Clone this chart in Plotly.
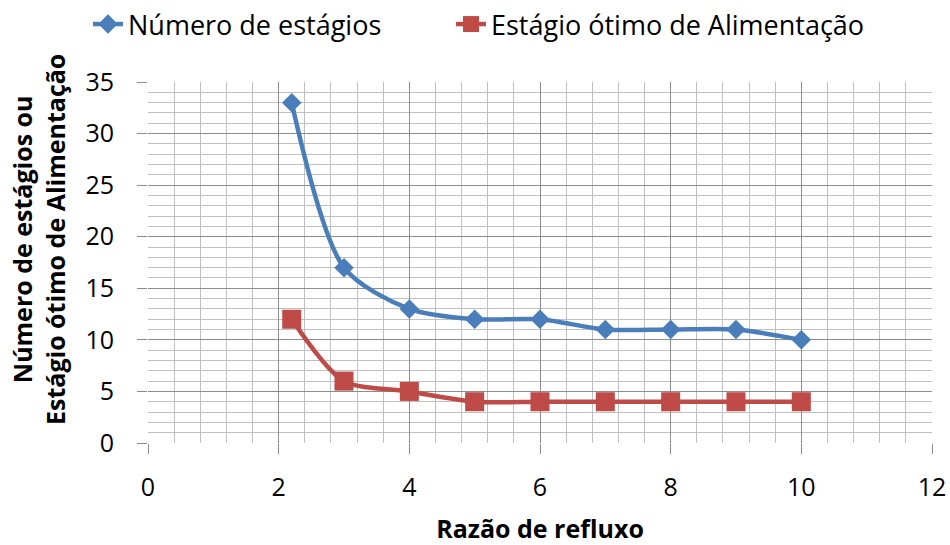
import plotly.graph_objects as go

refluxo = [2.2, 3, 4, 5, 6, 7, 8, 9, 10]
num_estagios = [33, 17, 13, 12, 12, 11, 11, 11, 10]
estagio_alim = [12, 6, 5, 4, 4, 4, 4, 4, 4]

FONT = "Open Sans"
FS = 25
LFS = 27
fig = go.Figure()
fig.add_trace(go.Scatter(
    x=refluxo, y=num_estagios, name="Número de estágios", legend="legend", showlegend=True,
    mode="lines+markers", line=dict(color="#4A7EBB", width=4.5, shape="spline", smoothing=0.8),
    marker=dict(symbol="diamond", size=15, color="#4A7EBB")))
fig.add_trace(go.Scatter(
    x=refluxo, y=estagio_alim, name="Estágio ótimo de Alimentação", legend="legend2", showlegend=True,
    mode="lines+markers", line=dict(color="#BE4B48", width=4.5, shape="spline", smoothing=0.8),
    marker=dict(symbol="square", size=19, color="#BE4B48")))

fig.update_layout(
    width=950, height=545, showlegend=True,
    margin=dict(l=148, r=18, t=82, b=102, autoexpand=False),
    paper_bgcolor="white", plot_bgcolor="white",
    font=dict(family=FONT, size=FS, color="black"),
    legend=dict(orientation="h", x=88/950, xanchor="left", xref="container",
                y=1.0, yanchor="top", yref="container", font=dict(size=LFS), visible=True),
    legend2=dict(orientation="h", x=451/950, xanchor="left", xref="container",
                 y=1.0, yanchor="top", yref="container", font=dict(size=LFS), visible=True),
    xaxis=dict(range=[0, 12], dtick=2, showgrid=True, gridcolor="#8c8c8c", gridwidth=1,
               ticks="outside", ticklen=10, tickcolor="#8c8c8c", zeroline=False,
               showline=False, automargin=False, ticklabelstandoff=12,
               minor=dict(dtick=0.4, showgrid=True, gridcolor="#c0c0c0", gridwidth=1),
               title=dict(text="<b>Razão de refluxo</b>", font=dict(size=FS),
                          standoff=18)),
    yaxis=dict(range=[0, 35], dtick=5, showgrid=True, gridcolor="#8c8c8c", gridwidth=1,
               ticks="outside", ticklen=10, tickcolor="#8c8c8c", zeroline=False,
               showline=False, automargin=False, ticklabelstandoff=18,
               minor=dict(dtick=1, showgrid=True, gridcolor="#c0c0c0", gridwidth=1)),
    annotations=[dict(
        text="<b>Número de estágios ou<br>Estágio ótimo de Alimentação</b>",
        textangle=-90, xref="paper", yref="paper",
        x=(38 - 148) / 784, y=(443 - 240) / 361, xanchor="center", yanchor="middle",
        showarrow=False, font=dict(size=FS), align="center")],
)
fig.write_html("out.html")
